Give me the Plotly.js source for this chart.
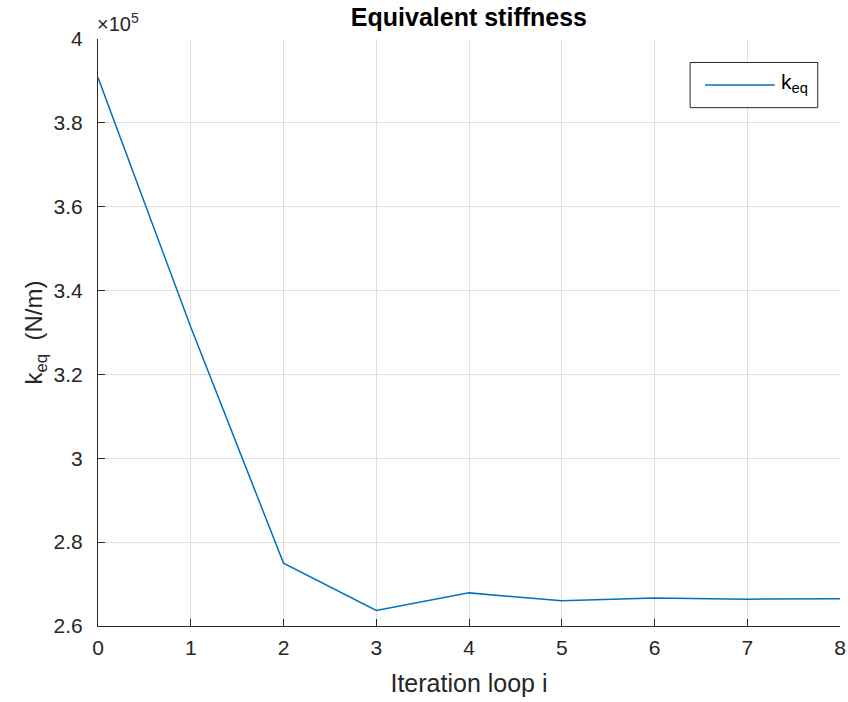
<!DOCTYPE html>
<html>
<head>
<meta charset="utf-8">
<script src="https://cdn.plot.ly/plotly-3.0.1.min.js"></script>
<style>html,body{margin:0;padding:0;background:#fff;}#chart{width:848px;height:702px;}</style>
</head>
<body>
<div id="chart"></div>
<script>
const iterations = [0, 1, 2, 3, 4, 5, 6, 7, 8];
const keq = [390800, 331300, 275000, 263700, 267900, 266000, 266700, 266400, 266500];
const yTickVals = [260000, 280000, 300000, 320000, 340000, 360000, 380000, 400000];
const yTickText = ['2.6', '2.8', '3', '3.2', '3.4', '3.6', '3.8', '4'];
const xTickVals = [0, 1, 2, 3, 4, 5, 6, 7, 8];
const seriesName = 'k<sub>eq</sub>';

const axisColor = '#262626';
const font = '"Liberation Sans", Arial, Helvetica, sans-serif';
const lineColor = '#0072bd';

const trace = {
  x: iterations, y: keq, type: 'scatter', mode: 'lines',
  name: seriesName, showlegend: false,
  line: {color: lineColor, width: 1.5}
};

const layout = {
  width: 848, height: 702,
  margin: {l: 98, r: 8, t: 38.5, b: 76},
  paper_bgcolor: '#fff', plot_bgcolor: '#fff',
  font: {family: font, color: axisColor, size: 20},
  title: {text: '<b>Equivalent stiffness</b>', font: {family: font, size: 25, color: '#000'}, x: 0.553, xanchor: 'center', y: 0.975, yanchor: 'middle'},
  xaxis: {
    range: [0, 8], tickvals: xTickVals, ticks: 'inside', ticklen: 7, tickcolor: axisColor,
    showline: true, linecolor: axisColor, linewidth: 1, mirror: false,
    showgrid: true, gridcolor: '#dfdfdf', gridwidth: 1, zeroline: false,
    ticklabelstandoff: 3,
    tickfont: {family: font, size: 21, color: axisColor},
    title: {text: 'Iteration loop i', font: {family: font, size: 25, color: axisColor}, standoff: 16}
  },
  yaxis: {
    range: [260000, 400000], tickvals: yTickVals, ticktext: yTickText,
    ticks: 'inside', ticklen: 7, tickcolor: axisColor,
    showline: true, linecolor: axisColor, linewidth: 1, mirror: false,
    showgrid: true, gridcolor: '#dfdfdf', gridwidth: 1, zeroline: false,
    ticklabelstandoff: 10,
    tickfont: {family: font, size: 21, color: axisColor},
    title: {text: 'k<sub>eq</sub>  (N/m)', font: {family: font, size: 24, color: axisColor}, standoff: 4}
  },
  showlegend: false,
  shapes: [
    {type: 'rect', xref: 'paper', yref: 'paper', x0: 0.798, x1: 0.970, y0: 0.883, y1: 0.960,
     line: {color: axisColor, width: 1}, fillcolor: '#fff', layer: 'above'},
    {type: 'line', xref: 'paper', yref: 'paper', x0: 0.818, x1: 0.912, y0: 0.9217, y1: 0.9217,
     line: {color: lineColor, width: 1.5}, layer: 'above'}
  ],
  annotations: [
    {xref: 'paper', yref: 'paper', x: 0, y: 1, xanchor: 'left', yanchor: 'bottom', yshift: 2, xshift: -3,
     text: '×10<sup>5</sup>', showarrow: false, font: {family: font, size: 20, color: axisColor}},
    {xref: 'paper', yref: 'paper', x: 0.918, y: 0.9217, xanchor: 'left', yanchor: 'middle', yshift: 2,
     text: seriesName, showarrow: false, font: {family: font, size: 21, color: '#000'}}
  ]
};

Plotly.newPlot('chart', [trace], layout, {displayModeBar: false, staticPlot: true});
</script>
</body>
</html>
